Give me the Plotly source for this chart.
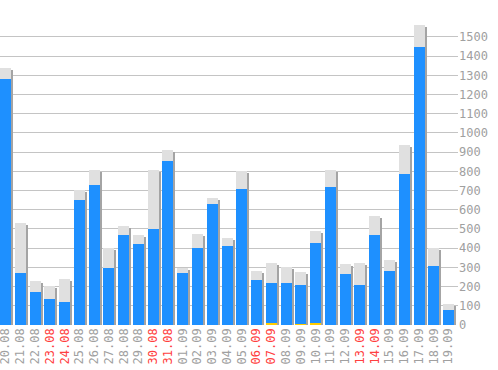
import plotly.graph_objects as go

dates = ["20.08", "21.08", "22.08", "23.08", "24.08", "25.08", "26.08", "27.08",
         "28.08", "29.08", "30.08", "31.08", "01.09", "02.09", "03.09", "04.09",
         "05.09", "06.09", "07.09", "08.09", "09.09", "10.09", "11.09", "12.09",
         "13.09", "14.09", "15.09", "16.09", "17.09", "18.09", "19.09"]
totals = [1340, 533, 231, 201, 241, 705, 809, 403, 517, 470, 809, 913, 298, 475,
          663, 455, 800, 283, 324, 303, 278, 491, 809, 319, 324, 569, 340, 938,
          1564, 399, 111]
values = [1283, 272, 173, 137, 121, 653, 731, 298, 470, 423, 501, 856, 272, 403,
          632, 413, 710, 236, 220, 220, 210, 429, 720, 267, 210, 470, 283, 788,
          1449, 309, 80]
extra = [0, 0, 0, 0, 0, 0, 0, 0, 0, 0, 0, 0, 0, 0, 0, 0, 0, 0, 6, 0, 5, 6, 0, 0,
         0, 0, 0, 0, 0, 0, 0]
weekends = ["23.08", "24.08", "30.08", "31.08", "06.09", "07.09", "13.09", "14.09"]
yticks = list(range(0, 1600, 100))

x = list(range(len(dates)))
W = 0.745
px_per_cat = 14.77
shadow_dx = 2 / px_per_cat
shadow_dy = 10

fig = go.Figure()
fig.add_trace(go.Bar(x=x, y=[t - shadow_dy for t in totals], width=W,
                     offset=-W / 2 + shadow_dx, marker_color="#a4a4a4",
                     marker_line_width=0, hoverinfo="skip"))
fig.add_trace(go.Bar(x=x, y=totals, width=W, offset=-W / 2,
                     marker_color="#e0e0e0", marker_line_width=0))
fig.add_trace(go.Bar(x=x, y=values, width=W, offset=-W / 2,
                     marker_color="#1e90ff", marker_line_width=0))
fig.add_trace(go.Bar(x=x, y=extra, width=W, offset=-W / 2,
                     marker_color="#ffcc00", marker_line_width=0))

ticktext = [
    f'<span style="color:#ff4040">{d}</span>' if d in weekends else d
    for d in dates
]

fig.update_layout(
    width=498, height=370,
    margin=dict(l=0, r=40, t=10, b=45, pad=0),
    barmode="overlay",
    showlegend=False,
    plot_bgcolor="white", paper_bgcolor="white",
    font=dict(family="DejaVu Sans Mono", size=12, color="#a0a0a0"),
    bargap=0,
)
fig.update_xaxes(
    range=[-0.375, 30.64], tickvals=x, ticktext=ticktext, tickangle=-90,
    showgrid=False, zeroline=False, showline=False, ticks="",
    automargin=False, ticklabeloverflow="allow",
    tickfont=dict(family="DejaVu Sans Mono", size=12, color="#a0a0a0"),
)
fig.update_yaxes(
    side="right", range=[0, 1640], tickvals=yticks,
    showgrid=True, gridcolor="#c4c4c4", gridwidth=1,
    zeroline=False, showline=False, ticks="",
    automargin=False, ticklabeloverflow="allow",
    tickfont=dict(family="DejaVu Sans Mono", size=12, color="#a0a0a0"),
)

fig.write_html("out.html", config={"displayModeBar": False},
               post_script="document.body.style.margin='0';document.body.style.overflow='hidden';")
